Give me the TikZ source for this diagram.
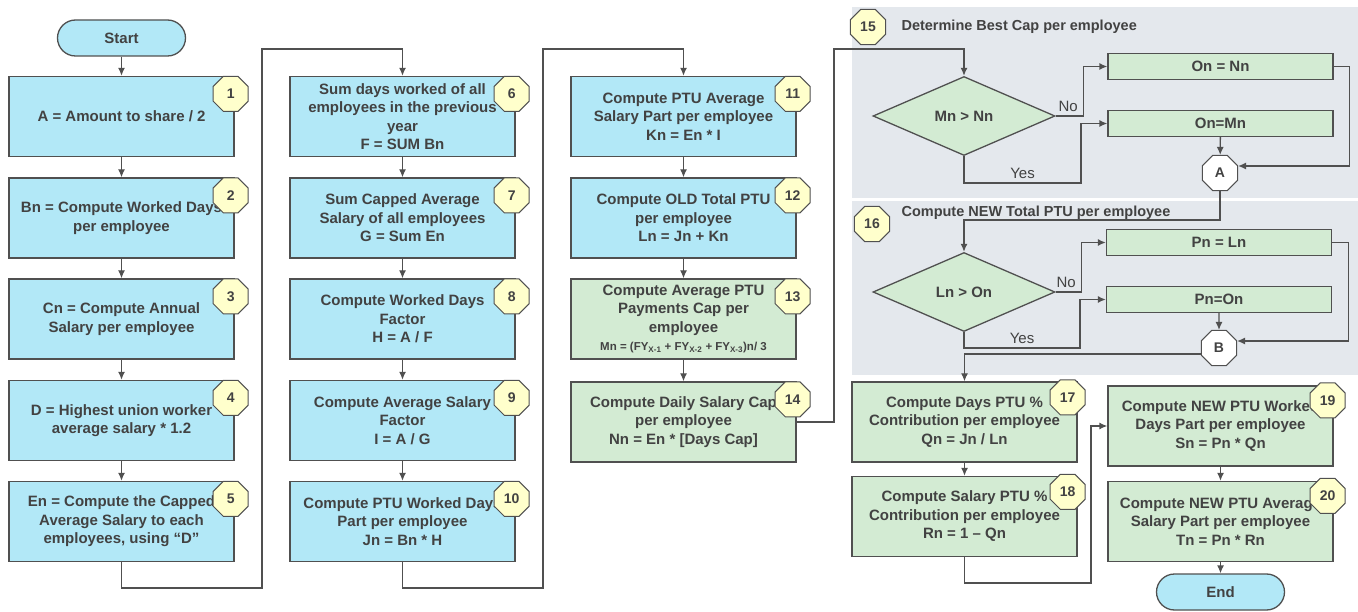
\documentclass[tikz,border=0pt]{standalone}
\usepackage{fontspec}
\setmainfont{Liberation Sans}
\usepackage{xcolor}
\usetikzlibrary{arrows.meta,shapes.geometric}

\definecolor{boxblue}{HTML}{B2E8F7}
\definecolor{boxgreen}{HTML}{D3EBD3}
\definecolor{badgeyellow}{HTML}{FFFFCC}
\definecolor{panelgray}{HTML}{E4E8ED}
\definecolor{linegray}{HTML}{505050}
\definecolor{textgray}{HTML}{424242}

\tikzset{
  every node/.style={text=textgray, font=\bfseries\fontsize{15}{18.5}\selectfont},
  blue box/.style={draw=linegray, line width=1.3pt, fill=boxblue, minimum width=225pt,
    minimum height=80pt, inner sep=0pt, align=center},
  green box/.style={blue box, fill=boxgreen},
  flat box/.style={green box, minimum height=26pt},
  term/.style={draw=linegray, line width=1.3pt, fill=boxblue, rounded corners=18pt,
    minimum width=128pt, minimum height=36pt, inner sep=0pt},
  test/.style={diamond, draw=linegray, line width=1.3pt, fill=boxgreen, minimum width=182pt,
    minimum height=79pt, inner sep=0pt},
  badge/.style={regular polygon, regular polygon sides=8, minimum size=38pt, inner sep=0pt,
    draw=linegray, line width=1pt, fill=badgeyellow, font=\bfseries\fontsize{14}{14}\selectfont},
  joint/.style={badge, fill=white},
  lbl/.style={font=\fontsize{15}{18}\selectfont},
  hdr/.style={anchor=west, font=\bfseries\fontsize{14.5}{18}\selectfont},
  arr/.style={draw=linegray, line width=1.3pt, -{Latex[length=8pt,width=7pt]}}
}

\begin{document}
\begin{tikzpicture}[x=1pt,y=-1pt]
  \useasboundingbox (0,0) rectangle (1358,612);
  \fill[panelgray] (852,7) rectangle (1358,198);
  \fill[panelgray] (852,201) rectangle (1358,375);

  \node[term] (start) at (121.5,38) {Start};
  \node[blue box] (b1) at (121.5,116.5) {A = Amount to share / 2};
  \node[blue box] (b2) at (121.5,218) {Bn = Compute Worked Days\\per employee};
  \node[blue box] (b3) at (121.5,319) {Cn = Compute Annual\\Salary per employee};
  \node[blue box] (b4) at (121.5,420.5) {D = Highest union worker\\average salary * 1.2};
  \node[blue box] (b5) at (121.5,521.5) {En = Compute the Capped\\Average Salary to each\\employees, using “D”};

  \node[blue box] (b6) at (402.5,116.5) {Sum days worked of all\\employees in the previous\\year\\F = SUM Bn};
  \node[blue box] (b7) at (402.5,218) {Sum Capped Average\\Salary of all employees\\G = Sum En};
  \node[blue box] (b8) at (402.5,319) {Compute Worked Days\\Factor\\H = A / F};
  \node[blue box] (b9) at (402.5,420.5) {Compute Average Salary\\Factor\\I = A / G};
  \node[blue box] (b10) at (402.5,521.5) {Compute PTU Worked Days\\Part per employee\\Jn = Bn * H};

  \node[blue box] (b11) at (683.5,116.5) {Compute PTU Average\\Salary Part per employee\\Kn = En * I};
  \node[blue box] (b12) at (683.5,218) {Compute OLD Total PTU\\per employee\\Ln = Jn + Kn};
  \node[green box] (b13) at (683.5,319) {Compute Average PTU\\Payments Cap per\\employee\\{\fontsize{11.5}{14}\selectfont Mn = (FY\textsubscript{X-1} + FY\textsubscript{X-2} + FY\textsubscript{X-3})n/ 3}};
  \node[green box] (b14) at (683.5,422) {Compute Daily Salary Cap\\per employee\\Nn = En * [Days Cap]};

  % step 15
  \node[badge] at (868,27) {15};
  \node[hdr] at (898,27) {Determine Best Cap per employee};
  \node[test] (d1) at (964,116) {Mn > Nn};
  \node[flat box] (onn) at (1220.5,66.5) {On = Nn};
  \node[flat box] (onm) at (1220.5,123.5) {On=Mn};
  \node[joint] (A) at (1220,173) {A};

  % step 16
  \node[badge] at (872,224) {16};
  \node[hdr] at (898,213) {Compute NEW Total PTU per employee};
  \node[test] (d2) at (964,292) {Ln > On};
  \node[flat box] (pnl) at (1219,242.5) {Pn = Ln};
  \node[flat box] (pno) at (1219,299.5) {Pn=On};
  \node[joint] (B) at (1219,348) {B};

  \node[green box] (b17) at (964.5,422) {Compute Days PTU \%\\Contribution per employee\\Qn = Jn / Ln};
  \node[green box] (b18) at (964.5,516.5) {Compute Salary PTU \%\\Contribution per employee\\Rn = 1 – Qn};
  \node[green box] (b19) at (1220.5,426) {Compute NEW PTU Worked\\Days Part per employee\\Sn = Pn * Qn};
  \node[green box] (b20) at (1220.5,521.5) {Compute NEW PTU Average\\Salary Part per employee\\Tn = Pn * Rn};
  \node[term] (end) at (1220.5,592) {End};

  \foreach \a/\b in {start/b1,b1/b2,b2/b3,b3/b4,b4/b5,b6/b7,b7/b8,b8/b9,b9/b10,
                     b11/b12,b12/b13,b13/b14,onm/A,pno/B,b17/b18,b19/b20,b20/end}
    \draw[arr] (\a) -- (\b);

  \draw[arr] (b5.south) |- (262,588) -- (262,49) -| (b6.north);
  \draw[arr] (b10.south) |- (543,588) -- (543,49) -| (b11.north);
  \draw[arr] (b14.east) -| (834,49) -| (d1.north);

  \draw[arr] (d1.east) -- ++(28,0) node[lbl, above left, xshift=-2pt] {No} |- (onn.west);
  \draw[arr] (d1.south) |- (1081,183) node[lbl, pos=0.75, above] {Yes} |- (onm.west);
  \draw[arr] (onn.east) -- ++(16,0) |- ([yshift=7pt]A.east);
  \draw[arr] (A.south) -- ++(0,29) -| (d2.north);

  \draw[arr] (d2.east) -- ++(26,0) node[lbl, above left, xshift=-2pt] {No} |- (pnl.west);
  \draw[arr] (d2.south) |- (1080,348) node[lbl, pos=0.75, above] {Yes} |- (pno.west);
  \draw[arr] (pnl.east) -- ++(16,0) |- ([yshift=7pt]B.east);
  \draw[arr] ([yshift=-6pt]B.west) -| (b17.north);
  \draw[arr] (b18.south) |- (1091,583) |- (b19.west);

  \foreach \b/\n in {b1/1,b2/2,b3/3,b4/4,b5/5,b6/6,b7/7,b8/8,b9/9,b10/10,b11/11,b12/12,b13/13,b14/14}
    \node[badge] at ([xshift=-4pt,yshift=-18pt]\b.north east) {\n};
  \foreach \b/\n in {b17/17,b18/18}
    \node[badge] at ([xshift=-10pt,yshift=-16pt]\b.north east) {\n};
  \foreach \b/\n in {b19/19,b20/20}
    \node[badge] at ([xshift=-6pt,yshift=-15pt]\b.north east) {\n};
\end{tikzpicture}
\end{document}
